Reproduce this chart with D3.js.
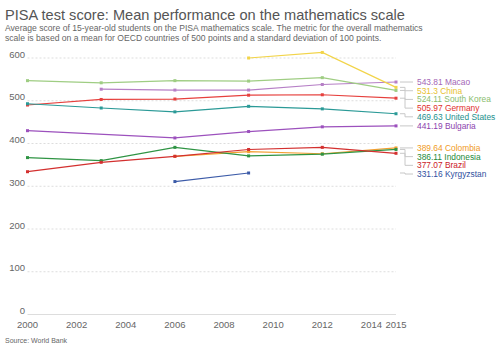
<!DOCTYPE html>
<html lang="en">
<head>
<meta charset="UTF-8">
<title>PISA mathematics</title>
<script src="https://d3js.org/d3.v7.min.js"></script>
<style>
    body { margin: 0; background: #fff; font-family: "Liberation Sans", Arial, sans-serif; }
    svg { display: block; }
    .title { font-size: 14.6px; fill: #555; }
    .subtitle { font-size: 8.6px; fill: #666; }
    .tick-label { font-size: 9.5px; fill: #666; }
    .grid { stroke: #ddd; stroke-width: 1; }
    .source { font-size: 7px; fill: #666; }
    .end-label { font-size: 8.4px; }
</style>
</head>
<body>
<svg id="chart" width="500" height="353"></svg>
<script>
    const years = [2000, 2003, 2006, 2009, 2012, 2015];
    const xTicks = [2000, 2002, 2004, 2006, 2008, 2010, 2012, 2014, 2015];
    const yTicks = [0, 100, 200, 300, 400, 500, 600];

    const countries = ["Macao", "China", "South Korea", "Germany", "United States",
        "Bulgaria", "Colombia", "Indonesia", "Brazil", "Kyrgyzstan"];
    const lineColors = ["#b67fc6", "#f2d449", "#9fcd83", "#e6403d", "#2b9a97",
        "#9c51bd", "#f3a032", "#2f9444", "#d3302f", "#3c5ba8"];
    const textColors = ["#a466b6", "#e8c130", "#8abd6e", "#e0302c", "#23908d",
        "#8c42ad", "#f09a1e", "#258a3a", "#cc2027", "#3050a0"];
    const endLabels = ["543.81", "531.3", "524.11", "505.97", "469.63",
        "441.19", "389.64", "386.11", "377.07", "331.16"];

    // scores per year (null = did not take part)
    const macao      = [null, 527, 525, 525, 538, 543.81];
    const china      = [null, null, null, 600, 613, 531.3];
    const southKorea = [547, 542, 547, 546, 554, 524.11];
    const germany    = [490, 503, 504, 513, 514, 505.97];
    const usa        = [493, 483, 474, 487, 481, 469.63];
    const bulgaria   = [430, null, 413, 428, 439, 441.19];
    const colombia   = [null, null, 370, 381, 376, 389.64];
    const indonesia  = [367, 360, 391, 371, 375, 386.11];
    const brazil     = [334, 356, 370, 386, 391, 377.07];
    const kyrgyzstan = [null, null, 311, 331, null, null];

    const seriesValues = [macao, china, southKorea, germany, usa,
        bulgaria, colombia, indonesia, brazil, kyrgyzstan];

    const svg = d3.select("#chart");

    const x = d3.scaleLinear().domain([2000, 2015]).range([27.5, 396]);
    const y = d3.scaleLinear().domain([0, 600]).range([314.5, 58]);

    // title block
    svg.append("text").attr("class", "title").attr("x", 5).attr("y", 20)
        .text("PISA test score: Mean performance on the mathematics scale");
    svg.append("text").attr("class", "subtitle").attr("x", 5).attr("y", 31)
        .text("Average score of 15-year-old students on the PISA mathematics scale. The metric for the overall mathematics");
    svg.append("text").attr("class", "subtitle").attr("x", 5).attr("y", 41)
        .text("scale is based on a mean for OECD countries of 500 points and a standard deviation of 100 points.");

    // grid + y labels
    svg.selectAll(".grid").data(yTicks).enter().append("line")
        .attr("class", "grid")
        .attr("x1", x(2000)).attr("x2", x(2015))
        .attr("y1", d => y(d)).attr("y2", d => y(d))
        .style("stroke-dasharray", d => d === 0 ? null : "2,2");

    svg.selectAll(".ylab").data(yTicks).enter().append("text")
        .attr("class", "tick-label ylab")
        .attr("x", 25).attr("y", d => y(d) - 0.5)
        .attr("text-anchor", "end")
        .text(d => d);

    svg.selectAll(".xlab").data(xTicks).enter().append("text")
        .attr("class", "tick-label xlab")
        .attr("x", d => x(d)).attr("y", 328)
        .attr("text-anchor", "middle")
        .text(d => d);

    // lines (missing years are skipped, line joins the neighbours)
    const line = d3.line()
        .x(d => x(d.year))
        .y(d => y(d.v));

    const series = countries.map((name, i) => ({
        name, i,
        points: years.map((yr, j) => ({ year: yr, v: seriesValues[i][j] }))
            .filter(p => p.v !== null)
    }));

    const g = svg.append("g");
    series.forEach(s => {
        g.append("path")
            .datum(s.points)
            .attr("fill", "none")
            .attr("stroke", lineColors[s.i])
            .attr("stroke-width", 1.2)
            .attr("d", line);
        g.selectAll(null).data(s.points).enter()
            .append("rect")
            .attr("x", d => x(d.year) - 1.5).attr("y", d => y(d.v) - 1.5)
            .attr("width", 3).attr("height", 3)
            .attr("fill", lineColors[s.i]);
    });

    // end labels with simple collision push-down
    const ends = series.map(s => {
        const last = s.points[s.points.length - 1];
        return { s, last, py: y(last.v) };
    }).sort((a, b) => a.py - b.py);

    const gap = 8.7;
    let prev = -Infinity;
    ends.forEach(e => {
        e.ly = Math.max(e.py, prev + gap);
        prev = e.ly;
    });

    const x0 = x(2015) + 4;
    ends.forEach(e => {
        g.append("path")
            .attr("d", `M${x0},${e.py}H${x0 + 5}V${e.ly}H${x0 + 13}`)
            .attr("fill", "none")
            .attr("stroke", "#c8c8c8")
            .attr("stroke-width", 1);
        g.append("text")
            .attr("class", "end-label")
            .attr("x", 417).attr("y", e.ly + 3)
            .attr("fill", textColors[e.s.i])
            .text(endLabels[e.s.i] + " " + e.s.name);
    });

    svg.append("text").attr("class", "source").attr("x", 5).attr("y", 343)
        .text("Source: World Bank");
</script>
</body>
</html>
